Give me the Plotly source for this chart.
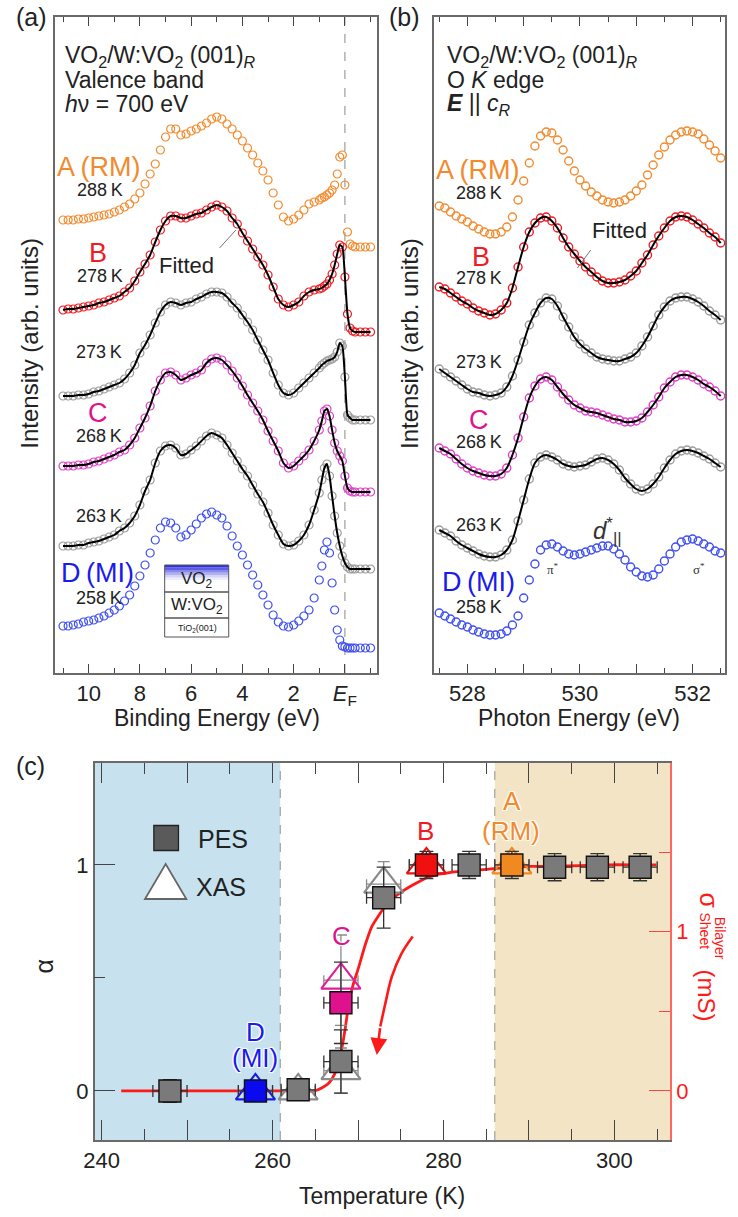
import plotly.graph_objects as go

W, H = 738, 1217
def PX(x): return x / W
def PY(y): return 1 - y / H

FONT = "Liberation Sans, Arial, Helvetica, sans-serif"
ORANGE = "#f28a2e"
RED = "#ee1c24"
MAGENTA = "#e0138c"
MAGENTA_PT = "#e040c8"
BLUE = "#1a1aee"
BLUE_PT = "#3f4ff0"
GRAY_PT = "#9c9c9c"
DARK = "#222222"
AXIS = "#6a6a6a"

# ---------------- (a) valence band PES ----------------
vb_energy = [11.0, 10.8, 10.6, 10.4, 10.2, 10.0, 9.8, 9.6, 9.4, 9.2, 9.0, 8.8, 8.6, 8.4, 8.2, 8.0,
             7.8, 7.6, 7.4, 7.2, 7.0, 6.8, 6.6, 6.4, 6.2, 6.0, 5.8, 5.6, 5.4, 5.2, 5.0, 4.8, 4.6,
             4.4, 4.2, 4.0, 3.8, 3.6, 3.4, 3.2, 3.0, 2.8, 2.6, 2.4, 2.2, 2.0, 1.8, 1.6, 1.4, 1.2,
             1.0, 0.9, 0.8, 0.7, 0.6, 0.5, 0.4, 0.3, 0.2, 0.1, 0.0, -0.1, -0.2, -0.3, -0.4,
             -0.6, -0.8, -1.0]
vb_A_288K = [.27, .27, .27, .28, .28, .29, .30, .31, .32, .33, .35, .37, .40, .43, .48, .54,
             .63, .73, .83, .97, 1.10, 1.18, 1.18, 1.12, 1.13, 1.16, 1.18, 1.21, 1.24, 1.28, 1.30, 1.28, 1.23,
             1.18, 1.12, 1.06, .99, .92, .84, .76, .67, .54, .42, .30, .26, .28, .32, .37, .43, .45,
             .47, .49, .50, .52, .54, .57, .62, .73, .90, .92, .62, .15, .03, .01, 0,
             0, 0, 0]
vb_B_278K = [.22, .23, .23, .24, .25, .26, .27, .29, .30, .32, .34, .36, .40, .44, .51, .60,
             .68, .77, .90, 1.02, 1.11, 1.16, 1.16, 1.14, 1.14, 1.16, 1.18, 1.19, 1.22, 1.25, 1.27, 1.25, 1.21,
             1.14, 1.08, .99, .91, .83, .75, .67, .57, .45, .33, .27, .25, .27, .30, .36, .40, .42,
             .43, .44, .46, .48, .52, .58, .67, .78, .87, .85, .55, .18, .04, .01, 0,
             0, 0, 0]
vb_273K = [.24, .24, .24, .25, .25, .26, .28, .29, .31, .33, .35, .37, .41, .47, .55, .67,
           .75, .85, .97, 1.08, 1.15, 1.18, 1.17, 1.15, 1.17, 1.18, 1.21, 1.23, 1.26, 1.28, 1.28, 1.27, 1.23,
           1.17, 1.12, 1.05, .98, .90, .80, .70, .60, .47, .35, .27, .25, .27, .32, .37, .42, .47,
           .52, .55, .57, .59, .60, .61, .63, .68, .77, .74, .43, .05, .02, 0, 0,
           0, 0, 0]
vb_C_268K = [.26, .26, .26, .27, .27, .28, .30, .31, .33, .35, .37, .40, .42, .47, .54, .64,
             .74, .86, 1.01, 1.12, 1.19, 1.20, 1.17, 1.12, 1.14, 1.17, 1.19, 1.22, 1.29, 1.33, 1.34, 1.32, 1.27,
             1.21, 1.14, 1.06, .97, .89, .81, .72, .61, .51, .41, .29, .24, .26, .31, .36, .42, .51,
             .62, .71, .81, .83, .76, .62, .49, .41, .36, .31, .16, .04, .01, 0, 0,
             0, 0, 0]
vb_263K = [.23, .23, .23, .24, .24, .26, .27, .28, .30, .32, .34, .38, .41, .46, .53, .64,
           .78, .89, 1.06, 1.18, 1.23, 1.24, 1.21, 1.14, 1.15, 1.19, 1.23, 1.28, 1.33, 1.36, 1.34, 1.31, 1.24,
           1.16, 1.08, 1.00, .93, .84, .75, .67, .56, .44, .34, .25, .23, .24, .28, .34, .44, .59,
           .76, .89, 1.01, 1.05, .93, .73, .53, .36, .23, .13, .06, .02, 0, 0, 0,
           0, 0, 0]
vb_D_258K = [.22, .22, .23, .24, .26, .27, .28, .30, .32, .35, .38, .42, .47, .53, .62, .72,
             .83, .95, 1.08, 1.20, 1.26, 1.25, 1.20, 1.11, 1.13, 1.18, 1.24, 1.30, 1.34, 1.36, 1.33, 1.30, 1.22,
             1.12, 1.02, .93, .83, .73, .63, .53, .43, .33, .26, .22, .21, .23, .27, .32, .38, .50,
             .68, .82, .98, 1.06, .95, .65, .38, .18, .08, .02, .01, 0, 0, 0, 0,
             0, 0, 0]
vb_series = [vb_A_288K, vb_B_278K, vb_273K, vb_C_268K, vb_263K, vb_D_258K]
vb_offsets = [4.26, 3.41, 2.53, 1.81, 1.04, 0.25]
vb_colors = [ORANGE, RED, GRAY_PT, MAGENTA_PT, GRAY_PT, BLUE_PT]
vb_fitted = [False, True, True, True, True, False]

# ---------------- (b) O K-edge XAS ----------------
xas_energy = [527.5, 527.6, 527.7, 527.8, 527.9, 528.0, 528.1, 528.2, 528.3, 528.4, 528.5, 528.6,
              528.7, 528.8, 528.9, 529.0, 529.1, 529.2, 529.3, 529.4, 529.5, 529.6, 529.7, 529.8,
              529.9, 530.0, 530.1, 530.2, 530.3, 530.4, 530.5, 530.6, 530.7, 530.8, 530.9, 531.0,
              531.1, 531.2, 531.3, 531.4, 531.5, 531.6, 531.7, 531.8, 531.9, 532.0, 532.1, 532.2,
              532.3, 532.4, 532.5]
xas_A_288K = [.28, .26, .22, .18, .15, .12, .08, .05, .02, 0, 0, .02, .07, .17, .34, .53, .71, .88,
              .98, 1.02, 1.01, .94, .84, .73, .63, .54, .48, .42, .38, .34, .32, .31, .32, .34, .38,
              .43, .49, .59, .69, .79, .87, .94, .99, 1.02, 1.03, 1.02, 1.0, .95, .89, .83, .76]
xas_B_278K = [.28, .26, .22, .18, .14, .11, .07, .04, .02, 0, .01, .05, .12, .27, .48, .68, .83, .92,
              .97, .98, .94, .87, .77, .68, .61, .54, .48, .43, .38, .34, .32, .32, .33, .35, .39,
              .44, .52, .60, .70, .79, .87, .94, .98, .99, .98, .95, .91, .87, .82, .78, .72]
xas_273K = [.27, .23, .19, .15, .11, .07, .04, .03, .01, 0, .01, .03, .09, .20, .36, .54, .71, .83,
            .93, .98, .97, .90, .79, .69, .59, .52, .47, .43, .39, .37, .36, .35, .35, .37, .39,
            .43, .50, .59, .70, .81, .89, .95, .98, .99, .99, .97, .94, .90, .85, .81, .76]
xas_C_268K = [.28, .25, .22, .17, .12, .08, .05, .03, .01, 0, 0, .02, .08, .21, .38, .59, .78, .90,
              .97, .99, .96, .89, .82, .76, .71, .68, .65, .64, .63, .61, .59, .57, .56, .54, .54,
              .55, .58, .64, .71, .79, .88, .94, .99, 1.01, 1.01, .99, .96, .92, .89, .85, .80]
xas_263K = [.27, .24, .21, .16, .12, .09, .06, .03, .01, 0, 0, .02, .07, .17, .36, .57, .78, .94,
            1.0, 1.02, 1.0, .97, .93, .91, .90, .91, .92, .95, .98, .99, .97, .93, .87, .79, .73,
            .68, .66, .68, .73, .80, .89, .97, 1.03, 1.06, 1.07, 1.06, 1.04, 1.01, .98, .94, .90]
xas_D_258K = [.22, .19, .16, .13, .10, .08, .05, .03, .01, 0, 0, .01, .04, .10, .19, .37, .55, .71,
              .85, .90, .91, .88, .84, .81, .80, .81, .83, .85, .87, .89, .89, .86, .81, .75, .68,
              .63, .59, .58, .60, .66, .74, .81, .88, .93, .95, .96, .94, .91, .88, .84, .82]
xas_series = [xas_A_288K, xas_B_278K, xas_273K, xas_C_268K, xas_263K, xas_D_258K]
xas_offsets = [4.39, 3.58, 2.77, 1.97, 1.16, 0.38]

# ---------------- (c) alpha vs temperature ----------------
pes_T = [248, 258, 263, 268, 268, 273, 278, 283, 288, 293, 298, 303]
pes_alpha = [0.0, 0.0, 0.005, 0.13, 0.39, 0.855, 1.0, 1.0, 1.0, 0.99, 0.99, 0.99]
pes_dalpha = [0.05, 0.03, 0.03, 0.14, 0.18, 0.135, 0.06, 0.06, 0.06, 0.06, 0.06, 0.06]
pes_dT = [2, 2, 2, 2, 2, 2, 2, 2, 2, 2, 2, 2]
pes_colors = ["#7a7a7a", "#0a0af0", "#7a7a7a", "#7a7a7a", "#e0118c", "#7a7a7a",
              "#f01010", "#7a7a7a", "#f08a20", "#7a7a7a", "#7a7a7a", "#7a7a7a"]
xas_T = [258, 263, 268, 268, 273, 278, 288]
xas_alpha = [0.0, 0.0, 0.09, 0.49, 0.915, 1.0, 1.0]
xas_dalpha = [0.03, 0.04, 0.10, 0.20, 0.10, 0.03, 0.03]
xas_dT = [2, 2, 2, 2, 2, 2, 2]
xas_colors = [BLUE, "#8a8a8a", "#8a8a8a", "#e0209a", "#8a8a8a", "#f01010", "#f08a20"]
sig_T = [242.3, 250.0, 256.0, 261.0, 264.0, 264.9, 265.8, 266.6, 267.3, 268.0, 268.5, 268.95,
         269.5, 270.1, 270.8, 271.6, 272.4, 273.2, 274.1, 275.1, 276.0, 277.0, 278.1, 279.3,
         280.6, 282.0, 283.3, 284.7, 287.0, 290.1, 293.0, 296.0, 299.0, 302.0, 304.9]
sig_mS = [0, 0, 0, 0, 0, 0, 0.02, 0.05, 0.11, 0.24, 0.39, 0.56, 0.68, 0.78, 0.91, 1.03, 1.10,
          1.16, 1.21, 1.25, 1.28, 1.31, 1.34, 1.36, 1.37, 1.38, 1.385, 1.39, 1.40, 1.41, 1.41,
          1.415, 1.42, 1.42, 1.42]
arrow_T = [276.4, 275.1, 273.95, 273.2, 272.6, 272.2]
arrow_mS = [0.97, 0.864, 0.717, 0.55, 0.404, 0.226]
T_insulating_end = 260.9
T_metal_start = 286.0

fig = go.Figure()

# (a) traces
for vals, off, col, fit in zip(vb_series, vb_offsets, vb_colors, vb_fitted):
    yv = [off + v for v in vals]
    fig.add_trace(go.Scatter(x=vb_energy, y=yv, mode="markers", xaxis="x", yaxis="y",
                             marker=dict(symbol="circle-open", size=8, color=col, line=dict(width=1.2)),
                             showlegend=False, hoverinfo="skip"))
    if fit:
        fig.add_trace(go.Scatter(x=vb_energy, y=yv, mode="lines", xaxis="x", yaxis="y",
                                 line=dict(color="black", width=2, shape="spline", smoothing=0.5),
                                 showlegend=False, hoverinfo="skip"))

# (b) traces
for vals, off, col, fit in zip(xas_series, xas_offsets, vb_colors, vb_fitted):
    yv = [off + v for v in vals]
    fig.add_trace(go.Scatter(x=xas_energy, y=yv, mode="markers", xaxis="x2", yaxis="y2",
                             marker=dict(symbol="circle-open", size=8, color=col, line=dict(width=1.4)),
                             showlegend=False, hoverinfo="skip"))
    if fit:
        fig.add_trace(go.Scatter(x=xas_energy, y=yv, mode="lines", xaxis="x2", yaxis="y2",
                                 line=dict(color="black", width=2, shape="spline", smoothing=0.8),
                                 showlegend=False, hoverinfo="skip"))

# (c) conductance (base subplot x3/y4)
fig.add_trace(go.Scatter(x=sig_T, y=sig_mS, mode="lines", xaxis="x3", yaxis="y4",
                         line=dict(color="#ff1a1a", width=2.8, shape="spline", smoothing=0.6),
                         showlegend=False, hoverinfo="skip"))
fig.add_trace(go.Scatter(x=arrow_T[:-1], y=arrow_mS[:-1], mode="lines", xaxis="x3", yaxis="y4",
                         line=dict(color="#ff1a1a", width=2.6, shape="spline"),
                         showlegend=False, hoverinfo="skip"))
# (c) XAS triangles and PES squares (overlaying subplot x3/y3)
fig.add_trace(go.Scatter(x=xas_T, y=xas_alpha, mode="markers", xaxis="x3", yaxis="y3",
                         error_x=dict(type="data", array=xas_dT, color="#8a8a8a", thickness=1.3, width=5),
                         error_y=dict(type="data", array=xas_dalpha, color="#8a8a8a", thickness=1.3, width=6),
                         marker=dict(symbol="triangle-up-open", size=34, color=xas_colors, line=dict(width=2.2)),
                         showlegend=False, hoverinfo="skip"))
fig.add_trace(go.Scatter(x=pes_T, y=pes_alpha, mode="markers", xaxis="x3", yaxis="y3",
                         error_x=dict(type="data", array=pes_dT, color="#333333", thickness=1.3, width=6),
                         error_y=dict(type="data", array=pes_dalpha, color="#333333", thickness=1.3, width=7),
                         marker=dict(symbol="square", size=22, color=pes_colors, line=dict(width=1.4, color="#111111")),
                         showlegend=False, hoverinfo="skip"))

shapes = []
annotations = []

def ann(text, x, y, size=18, color=DARK, xanchor="center", yanchor="middle", angle=0, family=FONT, shadow=None):
    f = dict(family=family, size=size, color=color)
    if shadow:
        f["shadow"] = shadow
    annotations.append(dict(text=text, x=PX(x), y=PY(y), xref="paper", yref="paper", showarrow=False,
                            xanchor=xanchor, yanchor=yanchor, textangle=angle, font=f))

# EF dashed line in (a)
shapes.append(dict(type="line", xref="x", yref="y domain", x0=0, x1=0, y0=0, y1=1,
                   line=dict(color="#8a8a8a", width=1, dash="dash"), layer="below"))
# shaded regions and dashed boundaries in (c)
shapes.append(dict(type="rect", xref="x3", yref="y4 domain", x0=239.2, x1=T_insulating_end, y0=0, y1=1,
                   fillcolor="#c7e2ee", line=dict(width=0), layer="below"))
shapes.append(dict(type="rect", xref="x3", yref="y4 domain", x0=T_metal_start, x1=306.5, y0=0, y1=1,
                   fillcolor="#f4e4c6", line=dict(width=0), layer="below"))
for tb in (T_insulating_end, T_metal_start):
    shapes.append(dict(type="line", xref="x3", yref="y4 domain", x0=tb, x1=tb, y0=0, y1=1,
                       line=dict(color="#909090", width=1, dash="dash"), layer="below"))

# "Fitted" pointer lines
shapes.append(dict(type="line", xref="paper", yref="paper", x0=PX(211.7), y0=PY(248), x1=PX(228.3), y1=PY(230),
                   line=dict(color="#777777", width=1)))
shapes.append(dict(type="line", xref="paper", yref="paper", x0=PX(575), y0=PY(268), x1=PX(588.5), y1=PY(250),
                   line=dict(color="#777777", width=1)))

# inset layer stack in (a)
bx0, bx1, by0, by1, by2, by3 = 156, 221, 565, 592, 618, 637
for i, a in enumerate([0.95, 0.75, 0.55, 0.37, 0.2, 0.08]):
    shapes.append(dict(type="rect", xref="paper", yref="paper", x0=PX(bx0), x1=PX(bx1),
                       y0=PY(by0 + 2.5 * i), y1=PY(by0 + 2.5 * (i + 1)),
                       fillcolor=f"rgba(40,40,220,{a})", line=dict(width=0)))
for (t0, t1) in [(by0, by1), (by1, by2), (by2, by3)]:
    shapes.append(dict(type="rect", xref="paper", yref="paper", x0=PX(bx0), x1=PX(bx1), y0=PY(t0), y1=PY(t1),
                       line=dict(color="#555555", width=1), fillcolor="rgba(0,0,0,0)"))
ann("VO<sub>2</sub>", 189, 580, 17)
ann("W:VO<sub>2</sub>", 189, 606, 17)
ann("TiO<sub>2</sub>(001)", 189, 628, 9)

# legend keys in (c)
shapes.append(dict(type="rect", xref="paper", yref="paper", x0=PX(145), x1=PX(170), y0=PY(825.5), y1=PY(850.5),
                   fillcolor="#5a5a5a", line=dict(color="#222222", width=1.3)))
shapes.append(dict(type="path", xref="paper", yref="paper",
                   path=f"M {PX(136)},{PY(899)} L {PX(178)},{PY(899)} L {PX(157)},{PY(864)} Z",
                   fillcolor="white", line=dict(color="#666666", width=1.8)))
ann("PES", 188, 839, 25, xanchor="left")
ann("XAS", 186, 887, 25, xanchor="left")

# arrow head in (c)
annotations.append(dict(x=arrow_T[-1], y=arrow_mS[-1], ax=arrow_T[-2], ay=arrow_mS[-2],
                        xref="x3", yref="y4", axref="x3", ayref="y4", text="", showarrow=True,
                        arrowhead=2, arrowsize=1.3, arrowwidth=2.6, arrowcolor="#ff1a1a"))

# panel labels
ann("(a)", 21, 17, 25)
ann("(b)", 399, 17, 25)
ann("(c)", 20, 766, 25)

# (a) texts
ann("VO<sub>2</sub>/W:VO<sub>2</sub> (001)<sub><i>R</i></sub>", 53, 56, 23, xanchor="left")
ann("Valence band", 53, 80, 23, xanchor="left")
ann("<i>h</i>ν = 700 eV", 53, 104, 23, xanchor="left")
ann("A\u2009(RM)", 89, 167, 27, ORANGE)
ann("288\u2009K", 90, 190, 18)
ann("B", 88, 253, 27, RED)
ann("278\u2009K", 90, 276, 18)
ann("Fitted", 178, 265, 22)
ann("273\u2009K", 89, 352, 18)
ann("C", 88, 413, 27, MAGENTA)
ann("268\u2009K", 89, 436, 18)
ann("263\u2009K", 89, 516, 18)
ann("D\u2009(MI)", 88, 573, 27, BLUE)
ann("258\u2009K", 89, 598, 18)
ann("Intensity (arb. units)", 19, 343, 24, angle=-90)
ann("Binding Energy (eV)", 209, 718, 23)

# (b) texts
ann("VO<sub>2</sub>/W:VO<sub>2</sub> (001)<sub><i>R</i></sub>", 441, 56, 23, xanchor="left")
ann("O <i>K</i> edge", 441, 80, 23, xanchor="left")
ann("<b><i>E</i></b> || <i>c</i><sub><i>R</i></sub>", 441, 104, 23, xanchor="left")
ann("A\u2009(RM)", 474, 170, 27, ORANGE)
ann("288\u2009K", 475, 193, 18)
ann("B", 477, 257, 27, RED)
ann("278\u2009K", 475, 278, 18)
ann("Fitted", 618, 230, 22)
ann("273\u2009K", 475, 362, 18)
ann("C", 475, 420, 27, MAGENTA)
ann("268\u2009K", 475, 442, 18)
ann("263\u2009K", 475, 525, 18)
ann("D\u2009(MI)", 475, 582, 27, BLUE)
ann("258\u2009K", 475, 607, 18)
ann("<i>d</i><sup>*</sup><sub>||</sub>", 606, 531, 24, "#333333")
ann("π<sup>*</sup>", 550, 569, 13, "#333333", family="Liberation Serif, serif")
ann("σ<sup>*</sup>", 698, 569, 13, "#333333", family="Liberation Serif, serif")
ann("Intensity (arb. units)", 405, 343, 24, angle=-90)
ann("Photon Energy (eV)", 577, 718, 23)

# (c) texts
halo = "1px 1px 1px white, -1px -1px 1px white, 1px -1px 1px white, -1px 1px 1px white"
ann("B", 421, 831, 26, RED, shadow=halo)
ann("A", 509, 801, 26, ORANGE, shadow=halo)
ann("(RM)", 508, 831, 26, ORANGE, shadow=halo)
ann("C", 335, 936, 26, MAGENTA, shadow=halo)
ann("D", 248, 1032, 26, BLUE, shadow=halo)
ann("(MI)", 248, 1058, 26, BLUE, shadow=halo)
ann("α", 33, 967, 25, angle=-90)
ann("σ", 709, 901, 25, "#ff1a1a", angle=90)
ann("Sheet", 704, 931, 14, "#ff1a1a", angle=90)
ann("Bilayer", 720, 938, 14, "#ff1a1a", angle=90)
ann("(mS)", 707, 996, 24, "#ff1a1a", angle=90)
ann("Temperature (K)", 377, 1196, 23)

tickfont = dict(family=FONT, size=22, color=DARK)
common_x = dict(showgrid=False, zeroline=False, showline=True, linecolor=AXIS, linewidth=1.5,
                mirror="ticks", ticks="inside", tickcolor="#444444", tickwidth=1.3, tickfont=tickfont)
common_y = dict(showgrid=False, zeroline=False, showline=True, linecolor=AXIS, linewidth=1.5,
                mirror=True, ticks="", showticklabels=False)

fig.update_layout(
    width=W, height=H, margin=dict(l=0, r=0, t=0, b=0),
    paper_bgcolor="white", plot_bgcolor="rgba(0,0,0,0)",
    font=dict(family=FONT, color=DARK),
    showlegend=False,
    xaxis=dict(domain=[PX(45), PX(372)], anchor="y", range=[11.3, -1.27],
               tickmode="array", tickvals=[10, 8, 6, 4, 2, 0],
               ticktext=["10", "8", "6", "4", "2", "<i>E</i><sub>F</sub>"], ticklen=9,
               minor=dict(dtick=1, tick0=0, ticklen=5, ticks="inside", tickcolor="#444444"), **common_x),
    yaxis=dict(domain=[PY(673), PY(17)], anchor="x", range=[0, 6.56], **common_y),
    xaxis2=dict(domain=[PX(429), PX(725)], anchor="y2", range=[527.4, 532.58],
                tickmode="array", tickvals=[528, 529, 530, 531, 532], ticktext=["528", "", "530", "", "532"],
                ticklen=9, minor=dict(dtick=0.5, tick0=528, ticklen=5, ticks="inside", tickcolor="#444444"),
                **common_x),
    yaxis2=dict(domain=[PY(673), PY(17)], anchor="x2", range=[0, 6.56], **common_y),
    xaxis3=dict(domain=[PX(85), PX(669)], anchor="y4", range=[239.2, 306.5],
                tickmode="array", tickvals=[240, 250, 260, 270, 280, 290, 300],
                ticktext=["240", "", "260", "", "280", "", "300"], ticklen=20,
                minor=dict(dtick=5, tick0=240, ticklen=11, ticks="inside", tickcolor="#444444"),
                **common_x),
    yaxis4=dict(domain=[PY(1140), PY(763)], anchor="x3", side="right", range=[-0.308, 2.059],
                showgrid=False, zeroline=False, showline=True, linecolor="#ff6666", linewidth=1.5,
                ticks="inside", tickmode="array", tickvals=[0, 1], ticktext=["0", "1"], ticklen=21,
                tickcolor="#ff4444", tickwidth=1.3,
                minor=dict(tickvals=[0.5, 1.5], ticklen=11, ticks="inside", tickcolor="#ff4444"),
                tickfont=dict(family=FONT, size=22, color="#ff1a1a")),
    yaxis3=dict(domain=[PY(1140), PY(763)], anchor="x3", overlaying="y4", side="left", range=[-0.217, 1.451],
                showgrid=False, zeroline=False, showline=True, linecolor=AXIS, linewidth=1.5,
                ticks="inside", tickmode="array", tickvals=[0, 1], ticktext=["0", "1"], ticklen=21,
                tickcolor="#444444", tickwidth=1.3,
                minor=dict(tickvals=[0.5], ticklen=11, ticks="inside", tickcolor="#444444"),
                tickfont=tickfont),
    shapes=shapes, annotations=annotations,
)

fig.write_html("out.html")
